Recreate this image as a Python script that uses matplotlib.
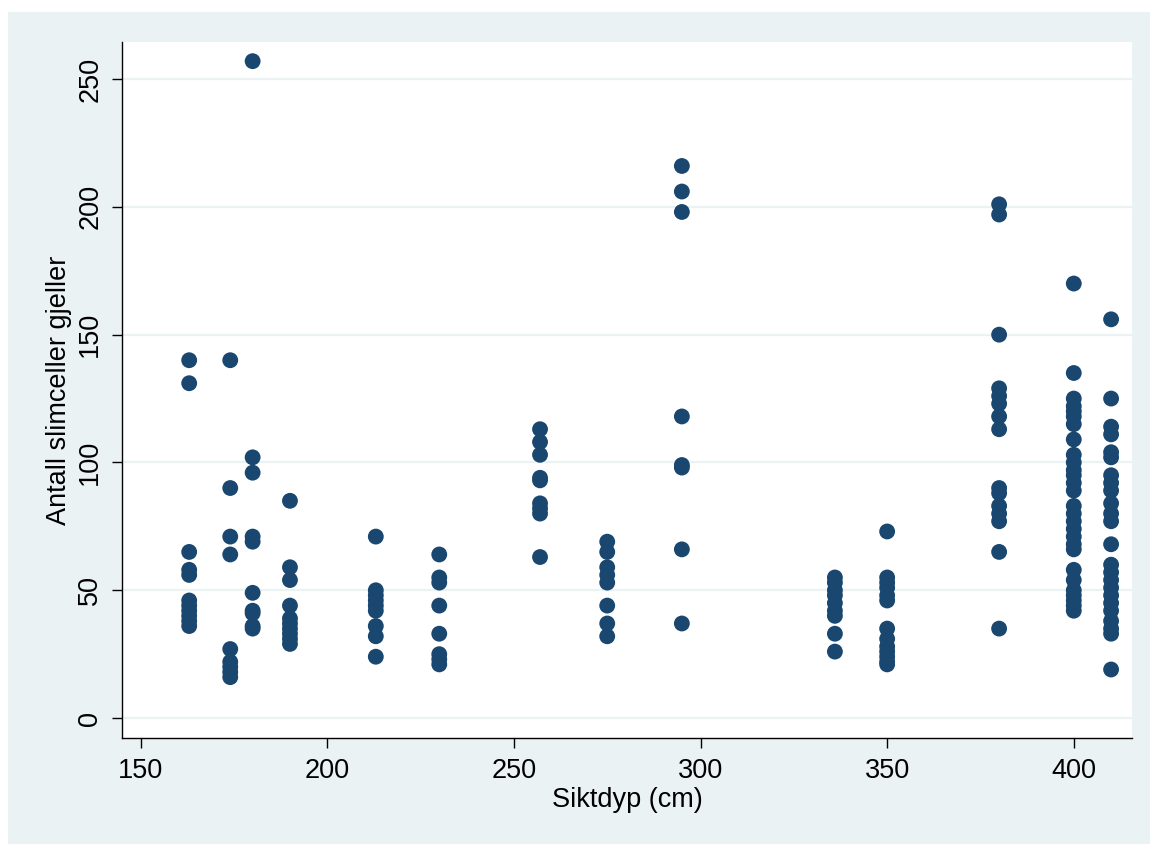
import matplotlib
matplotlib.use("Agg")
import matplotlib.pyplot as plt
from matplotlib.patches import Rectangle

plt.rcParams['font.family'] = ['Liberation Sans', 'DejaVu Sans']

# Data: sight depth (cm) -> counts of mucous cells in gills
siktdyp_163 = [140, 131, 65, 58, 56, 46, 44, 42, 40, 38, 36]
siktdyp_174 = [140, 90, 71, 64, 27, 22, 20, 18, 16]
siktdyp_180 = [257, 102, 96, 71, 69, 49, 42, 41, 36, 35]
siktdyp_190 = [85, 59, 54, 44, 39, 37, 35, 33, 31, 29]
siktdyp_213 = [71, 50, 48, 46, 44, 42, 36, 32, 24]
siktdyp_230 = [64, 55, 53, 44, 33, 25, 23, 21]
siktdyp_257 = [113, 108, 103, 94, 93, 84, 82, 80, 63]
siktdyp_275 = [69, 65, 59, 56, 53, 44, 37, 32]
siktdyp_295 = [216, 206, 198, 118, 99, 98, 66, 37]
siktdyp_336 = [55, 53, 50, 48, 45, 42, 40, 33, 26]
siktdyp_350 = [73, 55, 53, 51, 48, 46, 35, 31, 28, 26, 24, 22, 21]
siktdyp_380 = [201, 197, 150, 129, 126, 123, 118, 113, 90, 88, 83, 80, 77, 65, 35]
siktdyp_400 = [170, 135, 125, 122, 120, 118, 115, 109, 103, 100, 97, 95, 92, 89,
               83, 80, 77, 74, 71, 68, 66, 58, 54, 50, 48, 46, 44, 42]
siktdyp_410 = [156, 125, 114, 111, 104, 102, 95, 92, 89, 84, 80, 77, 68, 60, 57,
               54, 51, 48, 45, 42, 38, 35, 33, 19]

depths = [163, 174, 180, 190, 213, 230, 257, 275, 295, 336, 350, 380, 400, 410]
groups = [siktdyp_163, siktdyp_174, siktdyp_180, siktdyp_190, siktdyp_213,
          siktdyp_230, siktdyp_257, siktdyp_275, siktdyp_295, siktdyp_336,
          siktdyp_350, siktdyp_380, siktdyp_400, siktdyp_410]

x_ticks = [150, 200, 250, 300, 350, 400]
y_ticks = [0, 50, 100, 150, 200, 250]

xs, ys = [], []
for d, g in zip(depths, groups):
    xs.extend([d] * len(g))
    ys.extend(g)

W, H = 1150, 844
fig = plt.figure(figsize=(W / 100, H / 100), dpi=100, facecolor='white')
bg = '#EAF2F3'
fig.patches.append(Rectangle((8 / W, 0), 1 - 8 / W, 1 - 12 / H,
                             transform=fig.transFigure, facecolor=bg,
                             edgecolor='none', zorder=-10))

ax = fig.add_axes([122 / W, 1 - 738 / H, (1132 - 122) / W, (738 - 42) / H])
ax.set_facecolor('white')
ax.scatter(xs, ys, s=130, color='#1A476F', edgecolors='none', zorder=3)

ax.set_xlim(145.0, 415.6)
ax.set_ylim(-7.8, 264.5)
ax.set_xticks(x_ticks)
ax.set_yticks(y_ticks)
ax.set_yticklabels([str(v) for v in y_ticks], rotation=90, va='center')
ax.grid(axis='y', color=bg, linewidth=1.6, zorder=0)
ax.set_axisbelow(True)
for s in ['top', 'right']:
    ax.spines[s].set_visible(False)
for s in ['left', 'bottom']:
    ax.spines[s].set_color('black')
    ax.spines[s].set_linewidth(1.0)
ax.tick_params(axis='both', direction='out', length=7.5, width=1.0,
               labelsize=19.5, colors='black')
ax.tick_params(axis='x', pad=7)
ax.tick_params(axis='y', pad=6)
ax.set_xlabel('Siktdyp (cm)', fontsize=19.5, labelpad=2)
ax.set_ylabel('Antall slimceller gjeller', fontsize=19.5, labelpad=4)

fig.savefig('out.png', dpi=100, facecolor='white')
